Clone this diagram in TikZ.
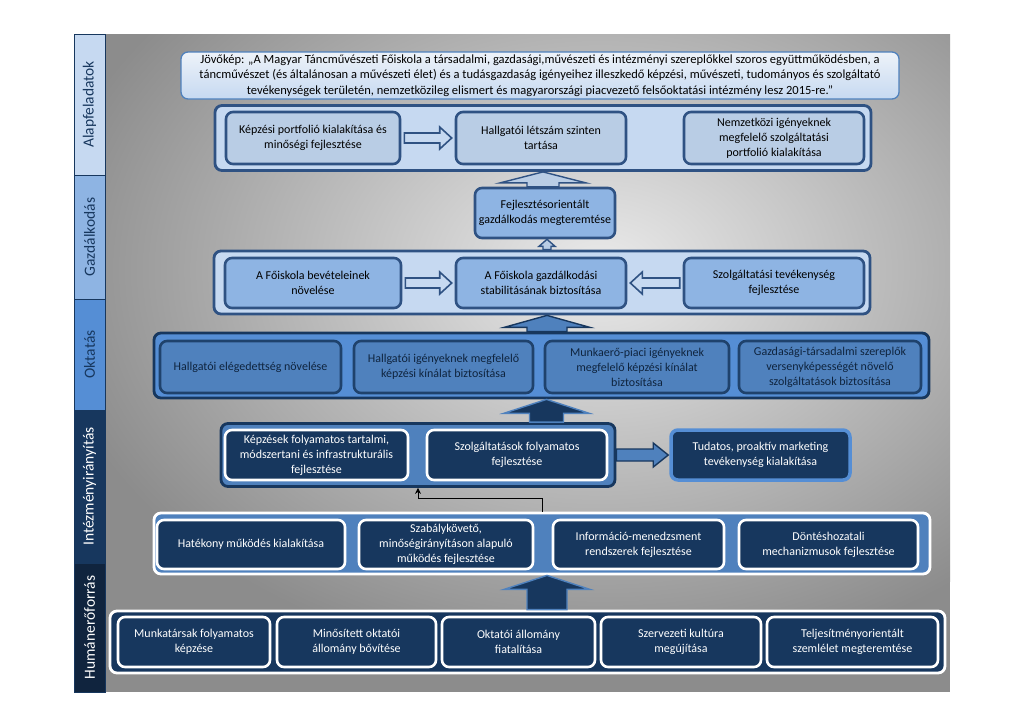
\documentclass[tikz,border=0pt]{standalone}
\usepackage{fontspec}
\setmainfont{Carlito}
\usetikzlibrary{calc,arrows.meta}

\definecolor{lb1}{HTML}{DCE6F2}
\definecolor{lb2}{HTML}{C6D9F1}
\definecolor{lbx}{HTML}{B9CDE5}
\definecolor{mb1}{HTML}{8EB4E3}
\definecolor{mb2}{HTML}{558ED5}
\definecolor{mb3}{HTML}{4F81BD}
\definecolor{nv}{HTML}{17375E}
\definecolor{nv2}{HTML}{10243E}
\definecolor{edge}{HTML}{2F5283}
\definecolor{txt}{HTML}{0F243E}

\newcommand\blockup[6]{%
  \path[#6] let \p1=(#1), \p2=(#2) in
   ({\x1-#4},\y1) -- ({\x1-#4},{\y2-#5}) -- ({\x1-#3},{\y2-#5}) -- (\x1,\y2)
   -- ({\x1+#3},{\y2-#5}) -- ({\x1+#4},{\y2-#5}) -- ({\x1+#4},\y1) -- cycle;}
\newcommand\blockh[6]{%
  \path[#6] let \p1=(#1), \p2=(#2), \n1={ifthenelse(\x2>\x1,1,-1)} in
   (\x1,{\y1+#4}) -- ({\x2-\n1*#5},{\y1+#4}) -- ({\x2-\n1*#5},{\y1+#3}) -- (\x2,\y1)
   -- ({\x2-\n1*#5},{\y1-#3}) -- ({\x2-\n1*#5},{\y1-#4}) -- (\x1,{\y1-#4}) -- cycle;}

\tikzset{
  every node/.style={inner sep=0pt, align=center, font=\fontsize{12}{15}\selectfont},
  rc/.style={rounded corners=7pt},
  vis/.style={rc, draw=mb3, line width=1.3pt, top color=lb1!50!white, bottom color=lb2, text=black, font=\fontsize{12.5}{15.5}\selectfont},
  lcont/.style={rc, draw=edge, line width=2.8pt, fill=#1},
  lbox/.style={rc, draw=edge, line width=2.6pt, fill=#1, text=black},
  mcont/.style={rc, draw=nv, line width=2.8pt, fill=mb2},
  mbox/.style={rc, draw=nv!85!mb3, line width=2.6pt, fill=mb3, text=txt},
  dcont/.style={rc, draw=#1, line width=2.8pt},
  dbox/.style={rc, draw=white, line width=2.6pt, fill=nv, text=white},
  barseg/.style={draw=nv, line width=0.8pt, rotate=90, minimum height=31pt, font=\fontsize{15.5}{18}\selectfont},
  harrow/.style={draw=edge, line width=1.6pt, fill=lb2},
  uparrowL/.style={draw=edge, line width=1.4pt, fill=lbx},
  uparrowM/.style={draw=nv, line width=1.4pt, fill=mb3},
  uparrowD/.style={draw=mb3, line width=1.4pt, fill=nv},
  conn/.style={draw=black, line width=0.9pt, -{Stealth[length=6pt,width=6pt]}}
}

\begin{document}
\begin{tikzpicture}[x=1pt,y=-1pt]
\useasboundingbox (0,0) rectangle (1024,724);
\fill[white] (0,0) rectangle (1024,724);

% background panel
\begin{scope}
\clip (105,34) rectangle (950,692);
\fill[black!45] (105,34) rectangle (950,692);
\shade[inner color=black!8, outer color=black!45] (600,270) ellipse (560pt and 400pt);
\end{scope}

% left bar
\node[barseg, fill=lb2, text=nv, minimum width=141pt] (L1) at (89.5,104.5) {Alapfeladatok};
\node[barseg, fill=mb1, text=nv, minimum width=124pt] (L2) at (89.5,237) {Gazdálkodás};
\node[barseg, fill=mb2, text=nv, minimum width=111pt] (L3) at (89.5,354.5) {Oktatás};
\node[barseg, fill=nv, text=white, minimum width=153pt] (L4) at (89.5,486.5) {Intézményirányítás};
\node[barseg, fill=nv2, text=white, minimum width=129pt] (L5) at (89.5,627.5) {Humánerőforrás};

% vision
\node[vis, minimum width=718pt, minimum height=47pt] (V) at (540,75.5)
 {Jövőkép: „A Magyar Táncművészeti Főiskola a társadalmi, gazdasági,művészeti és intézményi szereplőkkel szoros együttműködésben, a\\
  táncművészet (és általánosan a művészeti élet) és a tudásgazdaság igényeihez illeszkedő képzési, művészeti, tudományos és szolgáltató\\
  tevékenységek területén, nemzetközileg elismert és magyarországi piacvezető felsőoktatási intézmény lesz 2015-re.”};

% row 1
\node[lcont=lb2, minimum width=656pt, minimum height=65pt] (R1) at (543,138) {};
\node[lbox=lbx, minimum width=174pt, minimum height=52pt] (A1) at (313,138) {Képzési portfolió kialakítása és\\minőségi fejlesztése};
\node[lbox=lbx, minimum width=170pt, minimum height=52pt] (A2) at (541,138) {Hallgatói létszám szinten\\tartása};
\node[lbox=lbx, minimum width=180pt, minimum height=52pt] (A3) at (774,138) {Nemzetközi igényeknek\\megfelelő szolgáltatási\\portfolió kialakítása};
\blockh{$(A1.east)+(3,0)$}{$(A2.west)+(-3,0)$}{11pt}{5pt}{12pt}{harrow}

% F
\node[lbox=mb1, minimum width=140pt, minimum height=50pt] (F) at (545,213) {Fejlesztésorientált\\gazdálkodás megteremtése};
\blockup{$(F.north)+(-2,0)$}{R1.south}{43pt}{16pt}{11pt}{uparrowL}

% row 2
\node[lcont=lb2, minimum width=656pt, minimum height=63pt] (R2) at (542,282.5) {};
\node[lbox=mb1, minimum width=176pt, minimum height=50pt] (G1) at (313,283) {A Főiskola bevételeinek\\növelése};
\node[lbox=mb1, minimum width=170pt, minimum height=50pt] (G2) at (541,283) {A Főiskola gazdálkodási\\stabilitásának biztosítása};
\node[lbox=mb1, minimum width=180pt, minimum height=50pt] (G3) at (774,283) {Szolgáltatási tevékenység\\fejlesztése};
\blockh{$(G1.east)+(3,0)$}{$(G2.west)+(-3,0)$}{11pt}{5pt}{12pt}{harrow}
\blockh{$(G3.west)+(-3,0)$}{$(G2.east)+(3,0)$}{11pt}{5pt}{12pt}{harrow}
\blockup{$(R2.north)+(5,0)$}{F.south}{8pt}{4pt}{7pt}{uparrowL}

% row 3
\node[mcont, minimum width=775pt, minimum height=65pt] (R3) at (541.5,365.5) {};
\node[mbox, minimum width=181pt, minimum height=52pt] (O1) at (250.5,367) {Hallgatói elégedettség növelése};
\node[mbox, minimum width=179pt, minimum height=52pt] (O2) at (443.5,367) {Hallgatói igényeknek megfelelő\\képzési kínálat biztosítása};
\node[mbox, minimum width=184pt, minimum height=52pt] (O3) at (637,367) {Munkaerő-piaci igényeknek\\megfelelő képzési kínálat\\biztosítása};
\node[mbox, minimum width=182pt, minimum height=52pt] (O4) at (830,367) {Gazdasági-társadalmi szereplők\\versenyképességét növelő\\szolgáltatások biztosítása};
\blockup{$(R3.north)+(5.5,0)$}{R2.south}{43pt}{20pt}{12pt}{uparrowM}

% row 4
\node[dcont=nv, fill=mb3, minimum width=394pt, minimum height=63pt] (R4) at (418,455) {};
\node[dbox, minimum width=183pt, minimum height=50pt] (I1) at (316.5,455) {Képzések folyamatos tartalmi,\\módszertani és infrastrukturális\\fejlesztése};
\node[dbox, minimum width=180pt, minimum height=50pt] (I2) at (517,455) {Szolgáltatások folyamatos\\fejlesztése};
\node[rc, draw=mb2, line width=3.5pt, fill=nv, text=white, minimum width=179pt, minimum height=50pt] (I3) at (760.5,455) {Tudatos, proaktív marketing\\tevékenység kialakítása};
\blockh{R4.east}{$(I3.west)+(-1,0)$}{12pt}{6pt}{15pt}{uparrowM}
\blockup{$(R4.north -| 546.5,0)$}{R3.south}{43pt}{17pt}{14pt}{uparrowD}

% row 5
\node[dcont=white, fill=mb3, minimum width=776pt, minimum height=61pt] (R5) at (542,543.5) {};
\node[dbox, minimum width=188pt, minimum height=49pt] (H1) at (251,544.5) {Hatékony működés kialakítása};
\node[dbox, minimum width=174pt, minimum height=49pt] (H2) at (446,544.5) {Szabálykövető,\\minőségirányításon alapuló\\működés fejlesztése};
\node[dbox, minimum width=171pt, minimum height=49pt] (H3) at (638.5,544.5) {Információ-menedzsment\\rendszerek fejlesztése};
\node[dbox, minimum width=179pt, minimum height=49pt] (H4) at (828.5,544.5) {Döntéshozatali\\mechanizmusok fejlesztése};
\draw[conn] (R5.north) -- ++(0,-13) -| (R4.south);

% row 6
\node[dcont=white, fill=nv, minimum width=835pt, minimum height=62pt] (R6) at (527.5,642) {};
\node[dbox, minimum width=152pt, minimum height=50pt] (J1) at (194,642) {Munkatársak folyamatos\\képzése};
\node[dbox, minimum width=159pt, minimum height=50pt] (J2) at (356.5,642) {Minősített oktatói\\állomány bővítése};
\node[dbox, minimum width=153pt, minimum height=50pt] (J3) at (518.5,642) {Oktatói állomány\\fiatalítása};
\node[dbox, minimum width=160pt, minimum height=50pt] (J4) at (681,642) {Szervezeti kultúra\\megújítása};
\node[dbox, minimum width=171pt, minimum height=50pt] (J5) at (852.5,642) {Teljesítményorientált\\szemlélet megteremtése};
\blockup{$(R6.north -| 547,0)$}{R5.south}{43pt}{20pt}{14pt}{uparrowD}

\end{tikzpicture}
\end{document}
